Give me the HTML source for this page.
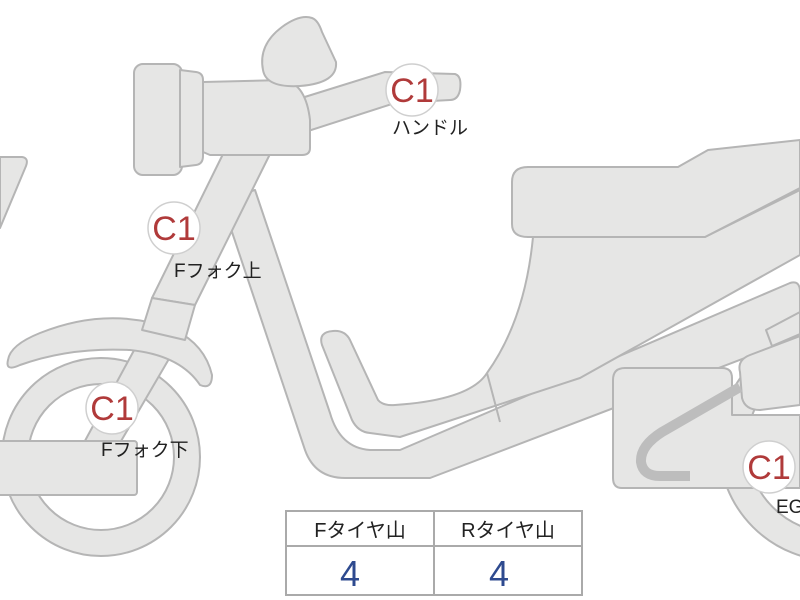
<!DOCTYPE html>
<html><head><meta charset="utf-8">
<style>
html,body{margin:0;padding:0;background:#fff;}
svg{display:block;}
text{font-family:"Liberation Sans","Noto Sans CJK JP",sans-serif;}
</style></head>
<body>
<svg width="800" height="600" viewBox="0 0 800 600" xmlns="http://www.w3.org/2000/svg">
<g fill="#e6e6e5" stroke="#b5b5b5" stroke-width="2" stroke-linejoin="round">
  <!-- left partial -->
  <path d="M0,157 L22,157 Q29,158 26,166 L0,228 Z"/>
  <!-- rear wheel -->
  <circle cx="835" cy="445" r="116"/>
  <circle cx="835" cy="445" r="88" fill="#fff"/>
  <!-- front wheel -->
  <circle cx="101" cy="457" r="99"/>
  <circle cx="101" cy="457" r="73" fill="#fff"/>
  <!-- lower fork -->
  <path d="M145,330 L180,340 L110,460 L80,450 Z"/>
  <!-- fender -->
  <path d="M8,360 Q10,345 40,333 Q110,305 175,330 Q205,345 212,375 Q212,390 200,385 Q180,355 130,350 Q70,347 20,365 Q5,372 8,360 Z"/>
  <!-- horizontal bar -->
  <rect x="-5" y="441" width="142" height="54" rx="3"/>
  <!-- down tube -->
  <path d="M225,200 L255,190 L330,413 Q340,448 370,450 L400,450 L790,283 Q800,280 800,292 L800,337 L430,478 L345,478 Q315,478 305,450 L232,232 Z"/>
  <!-- body panel -->
  <path d="M322,345 Q318,332 333,331 Q345,330 350,340 L378,400 Q383,406 395,405 Q470,400 487,373 Q525,320 533,237 L705,237 L800,190 L800,255 L580,378 L400,437 L370,433 Q358,432 352,420 Z"/>
  <line x1="487" y1="373" x2="500" y2="422"/>
  <!-- seat -->
  <path d="M512,182 Q512,167 528,167 L678,167 L708,150 L800,140 L800,188 L705,237 L528,237 Q512,237 512,224 Z"/>
  <!-- engine -->
  <path d="M613,380 Q613,368 625,368 L722,368 Q732,368 732,378 L732,415 L800,415 L800,488 L622,488 Q613,488 613,478 Z"/>
  <path d="M740,372 Q737,360 750,355 L800,336 L800,405 L760,410 Q745,410 742,398 Z"/>
  <path d="M766,330 L800,312 L800,334 L772,346 Z"/>
  <!-- upper fork -->
  <path d="M225,150 L272,150 L195,305 L152,298 Z"/>
  <path d="M152,298 L195,305 L185,340 L142,330 Z"/>
  <!-- headlight -->
  <rect x="134" y="64" width="48" height="111" rx="9"/>
  <path d="M180,70 L196,72 Q203,73 203,80 L203,156 Q203,164 196,165 L180,167 Z"/>
  <!-- handlebar -->
  <path d="M295,100 L385,72 L455,74 Q462,76 460,90 Q458,100 450,100 L395,103 L305,132 Z"/>
  <path d="M203,82 L285,80 Q306,85 310,120 L310,148 Q310,155 302,155 L210,155 L203,152 Z"/>
  <!-- windscreen -->
  <path d="M263,70 Q258,45 282,27 Q300,14 312,18 Q318,20 322,32 L336,62 Q338,83 300,86 Q266,88 263,70 Z"/>
</g>
<!-- exhaust pipe -->
<path d="M740,387 L662,432 Q640,446 641,462 Q643,476 660,476 L690,476" fill="none" stroke="#bdbdbd" stroke-width="10"/>

<!-- C1 markers -->
<g fill="#fff" stroke="#cfcfcf" stroke-width="1.5">
  <circle cx="412" cy="90" r="26"/>
  <circle cx="174" cy="228" r="26"/>
  <circle cx="112" cy="408" r="26"/>
  <circle cx="769" cy="467" r="26"/>
</g>
<g fill="#b03a3a" font-size="34" text-anchor="middle">
  <text x="412" y="102">C1</text>
  <text x="174" y="240">C1</text>
  <text x="112" y="420">C1</text>
  <text x="769" y="479">C1</text>
</g>
<g fill="#222" font-size="19">
  <text x="392" y="134">ハンドル</text>
  <text x="174" y="277">Fフォク上</text>
  <text x="101" y="456">Fフォク下</text>
  <text x="776" y="513">EG</text>
</g>

<!-- table -->
<g>
  <rect x="286" y="511" width="296" height="84" fill="#fff" stroke="#aaa" stroke-width="2"/>
  <line x1="286" y1="546" x2="582" y2="546" stroke="#aaa" stroke-width="2"/>
  <line x1="434" y1="511" x2="434" y2="595" stroke="#aaa" stroke-width="2"/>
  <text x="360" y="537" font-size="20" fill="#222" text-anchor="middle">Fタイヤ山</text>
  <text x="508" y="537" font-size="20" fill="#222" text-anchor="middle">Rタイヤ山</text>
  <text x="350" y="586" font-size="36" fill="#2e4a8f" text-anchor="middle">4</text>
  <text x="499" y="586" font-size="36" fill="#2e4a8f" text-anchor="middle">4</text>
</g>
</svg>
</body></html>
